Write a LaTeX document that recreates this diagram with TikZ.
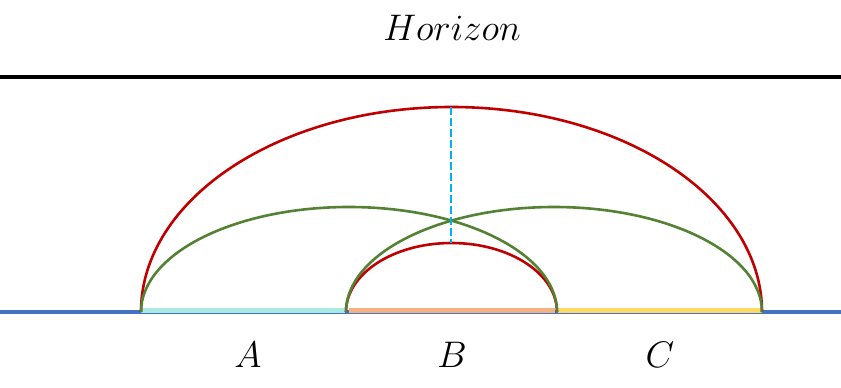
\RequirePackage{fix-cm}
\documentclass[tikz,border=0pt]{standalone}
\usepackage{amsmath}
\usepackage{tikz}
\definecolor{baseblue}{HTML}{4472C4}
\definecolor{segA}{HTML}{A9E9E1}
\definecolor{segB}{HTML}{F4B183}
\definecolor{segC}{HTML}{FFD966}
\definecolor{arcred}{HTML}{C00000}
\definecolor{arcgreen}{HTML}{548235}
\definecolor{skyblue}{HTML}{00B0F0}
\tikzset{
  redarc/.style={arcred,line width=2.6pt},
  greenarc/.style={arcgreen,line width=2.6pt},
  segline/.style={line width=5pt},
  lbl/.style={font=\fontsize{37}{44}\selectfont}
}

\begin{document}
\begin{tikzpicture}[x=1pt,y=1pt]
  \useasboundingbox (0,0) rectangle (841,388);
  \coordinate (lend) at (0,76);
  \coordinate (rend) at (841,76);
  \coordinate (p1) at (141,76);
  \coordinate (p2) at (346,76);
  \coordinate (p3) at (557,76);
  \coordinate (p4) at (762,76);
  \coordinate (bigtop) at (451,281);
  \coordinate (smalltop) at (451,145);
  \coordinate (hl) at (0,311);
  \coordinate (hr) at (841,311);

  \node[lbl] (horizon) at (452,360) {$Horizon$};
  \node[lbl] (labA) at (248,33) {$A$};
  \node[lbl] (labB) at (452,33) {$B$};
  \node[lbl] (labC) at (660,33) {$C$};

  \draw [black,line width=4.5pt] (hl) -- (hr);
  \draw [baseblue,line width=4pt] (lend) -- (rend);
  \draw [segline,segA] ([yshift=1pt]p1) -- ([yshift=1pt,xshift=-1pt]p2);
  \draw [segline,segB] ([yshift=1pt,xshift=3pt]p2) -- ([yshift=1pt,xshift=-2pt]p3);
  \draw [segline,segC] ([yshift=1pt,xshift=1pt]p3) -- ([yshift=1pt]p4);

  \draw [redarc] (p1) arc[start angle=180,end angle=0,x radius=310.5,y radius=205];
  \draw [redarc] (p2) arc[start angle=180,end angle=0,x radius=105.5,y radius=69];
  \draw [greenarc] (p1) arc[start angle=180,end angle=0,x radius=208,y radius=105];
  \draw [greenarc] (p2) arc[start angle=180,end angle=0,x radius=208,y radius=105];
  \draw [skyblue,line width=2.5pt,dash pattern=on 8pt off 3pt] (bigtop) -- (smalltop);
\end{tikzpicture}
\end{document}
